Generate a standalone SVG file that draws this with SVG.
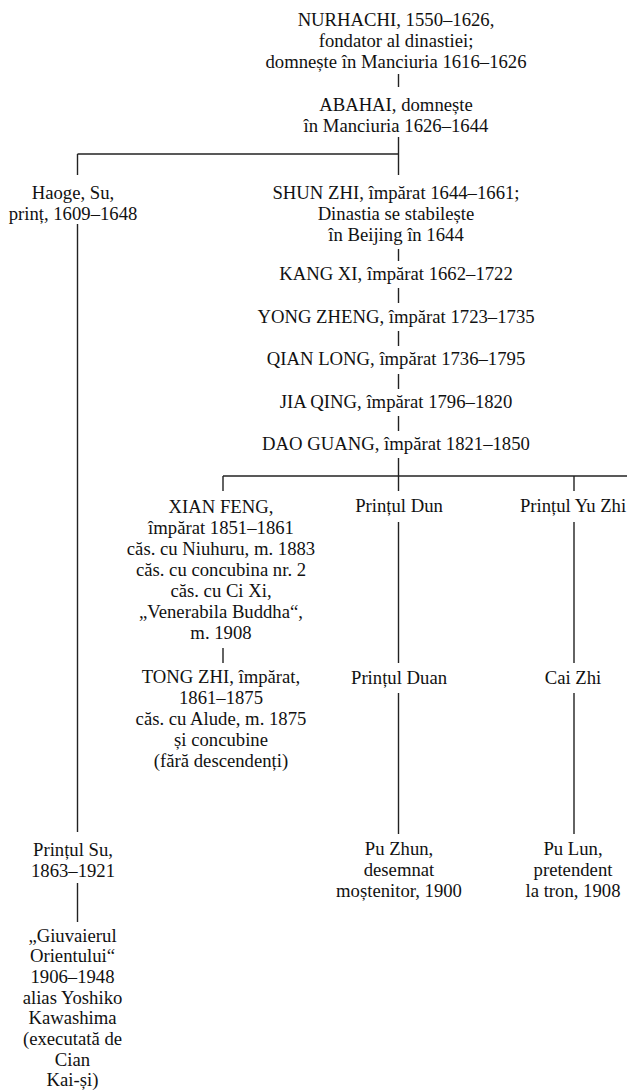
<svg xmlns="http://www.w3.org/2000/svg" width="627" height="1090" viewBox="0 0 627 1090">
<style>
text{font-family:"Liberation Serif","Times New Roman",serif;font-size:18.7px;fill:#111;text-anchor:middle}
.c line{stroke:#222;stroke-width:1.4;fill:none}
</style>
<rect width="627" height="1090" fill="#fff"/>
<g class="c" id="connectors">
<line x1="398.5" y1="74" x2="398.5" y2="87"/>
<line x1="398.5" y1="137" x2="398.5" y2="175"/>
<line x1="77.5" y1="154" x2="398.5" y2="154"/>
<line x1="77.5" y1="154" x2="77.5" y2="175"/>
<line x1="77.5" y1="224" x2="77.5" y2="832"/>
<line x1="398.5" y1="249" x2="398.5" y2="261"/>
<line x1="398.5" y1="288" x2="398.5" y2="303"/>
<line x1="398.5" y1="331" x2="398.5" y2="346"/>
<line x1="398.5" y1="374" x2="398.5" y2="389"/>
<line x1="398.5" y1="416" x2="398.5" y2="431"/>
<line x1="398.5" y1="458" x2="398.5" y2="491"/>
<line x1="223" y1="476" x2="627" y2="476"/>
<line x1="223" y1="476" x2="223" y2="491"/>
<line x1="574" y1="476" x2="574" y2="491"/>
<line x1="223" y1="648" x2="223" y2="663"/>
<line x1="398.5" y1="522" x2="398.5" y2="663"/>
<line x1="398.5" y1="693" x2="398.5" y2="834"/>
<line x1="574" y1="522" x2="574" y2="663"/>
<line x1="574" y1="693" x2="574" y2="834"/>
<line x1="77.5" y1="883" x2="77.5" y2="922"/>
</g>
<g id="nurhachi"><text x="396" y="26">NURHACHI, 1550–1626,</text><text x="396" y="47">fondator al dinastiei;</text><text x="396" y="68">domnește în Manciuria 1616–1626</text></g>
<g id="abahai"><text x="396" y="111">ABAHAI, domnește</text><text x="396" y="132">în Manciuria 1626–1644</text></g>
<g id="haoge"><text x="73" y="199">Haoge, Su,</text><text x="73" y="220">prinț, 1609–1648</text></g>
<g id="shunzhi"><text x="396" y="199">SHUN ZHI, împărat 1644–1661;</text><text x="396" y="220">Dinastia se stabilește</text><text x="396" y="241">în Beijing în 1644</text></g>
<g id="kangxi"><text x="396" y="280">KANG XI, împărat 1662–1722</text></g>
<g id="yongzheng"><text x="396" y="322.5">YONG ZHENG, împărat 1723–1735</text></g>
<g id="qianlong"><text x="396" y="365">QIAN LONG, împărat 1736–1795</text></g>
<g id="jiaqing"><text x="396" y="407.5">JIA QING, împărat 1796–1820</text></g>
<g id="daoguang"><text x="396" y="450">DAO GUANG, împărat 1821–1850</text></g>
<g id="xianfeng"><text x="221" y="513">XIAN FENG,</text><text x="221" y="534">împărat 1851–1861</text><text x="221" y="555">căs. cu Niuhuru, m. 1883</text><text x="221" y="576">căs. cu concubina nr. 2</text><text x="221" y="597">căs. cu Ci Xi,</text><text x="221" y="618">„Venerabila Buddha“,</text><text x="221" y="639">m. 1908</text></g>
<g id="dun"><text x="399" y="512">Prințul Dun</text></g>
<g id="yuzhi"><text x="573" y="512">Prințul Yu Zhi</text></g>
<g id="tongzhi"><text x="221" y="683">TONG ZHI, împărat,</text><text x="221" y="704">1861–1875</text><text x="221" y="725">căs. cu Alude, m. 1875</text><text x="221" y="746">și concubine</text><text x="221" y="767">(fără descendenți)</text></g>
<g id="duan"><text x="399" y="684">Prințul Duan</text></g>
<g id="caizhi"><text x="573" y="684">Cai Zhi</text></g>
<g id="su"><text x="73" y="856">Prințul Su,</text><text x="73" y="877">1863–1921</text></g>
<g id="puzhun"><text x="399" y="855">Pu Zhun,</text><text x="399" y="876">desemnat</text><text x="399" y="897">moștenitor, 1900</text></g>
<g id="pulun"><text x="573" y="855">Pu Lun,</text><text x="573" y="876">pretendent</text><text x="573" y="897">la tron, 1908</text></g>
<g id="giuvaierul"><text x="72.5" y="941.5">„Giuvaierul</text><text x="72.5" y="962.2">Orientului“</text><text x="72.5" y="982.9">1906–1948</text><text x="72.5" y="1003.6">alias Yoshiko</text><text x="72.5" y="1024.3">Kawashima</text><text x="72.5" y="1045">(executată de</text><text x="72.5" y="1065.7">Cian</text><text x="72.5" y="1086.4">Kai-și)</text></g>
</svg>
